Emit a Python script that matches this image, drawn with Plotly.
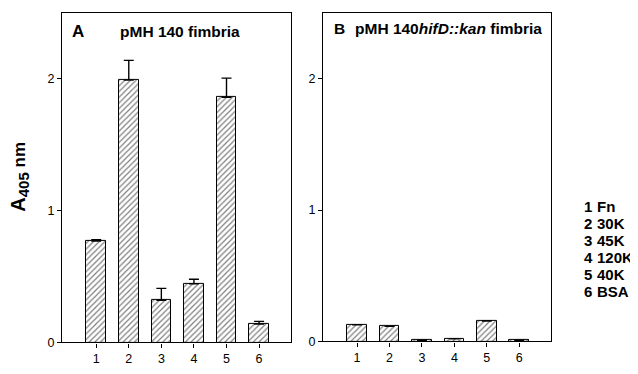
import plotly.graph_objects as go

categories = [1, 2, 3, 4, 5, 6]
values_a = [0.77, 1.99, 0.32, 0.445, 1.86, 0.14]
errors_a = [0.01, 0.15, 0.09, 0.035, 0.145, 0.02]
values_b = [0.127, 0.115, 0.01, 0.02, 0.155, 0.01]
errors_b = [0.0, 0.0, 0.0, 0.0, 0.004, 0.0]
legend_nums = ["1", "2", "3", "4", "5", "6"]
legend_labels = ["Fn", "30K", "45K", "120K", "40K", "BSA"]
title_a = "pMH 140 fimbria"
title_b = "pMH 140<i>hifD::kan</i> fimbria"
y_title = "<b><span style='font-size:20px'>A</span><sub><span style='font-size:15px'>405</span></sub> nm</b>"

# page body has an 8px default margin; figure is placed at (8, 8)
OFF = 8
W, H = 630, 366
FONT = "Liberation Sans, Arial, sans-serif"

def px_x(p):
    return (p - OFF) / W

def px_y(p):
    return 1 - (p - OFF) / H

fig = go.Figure()

pattern = dict(shape="/", fgcolor="black", bgcolor="white", size=4, solidity=0.3)

for vals, errs, xa, ya in [(values_a, errors_a, "x", "y"), (values_b, errors_b, "x2", "y2")]:
    fig.add_trace(go.Bar(
        x=categories, y=vals, width=0.6,
        marker=dict(color="white", line=dict(color="black", width=1), pattern=pattern),
        error_y=dict(type="data", array=errs, arrayminus=[0] * len(errs), symmetric=False,
                     color="black", thickness=1.4, width=5),
        xaxis=xa, yaxis=ya, showlegend=False,
    ))

axis_common = dict(showline=True, linecolor="black", linewidth=1.2, mirror=True,
                   ticks="outside", ticklen=4, tickcolor="black", tickwidth=1,
                   showgrid=False, zeroline=False,
                   tickfont=dict(family=FONT, size=12.5, color="black"))

fig.update_layout(
    width=W, height=H,
    margin=dict(l=0, r=0, t=0, b=0),
    paper_bgcolor="white", plot_bgcolor="white",
    bargap=0,
    xaxis=dict(domain=[px_x(62), px_x(291)], range=[-0.05, 6.98], tickvals=categories,
               anchor="y", **axis_common),
    yaxis=dict(domain=[px_y(349), px_y(13)], range=[0, 2.5], tickvals=[0, 1, 2],
               anchor="x", **axis_common),
    xaxis2=dict(domain=[px_x(323), px_x(551)], range=[-0.05, 6.98], tickvals=categories,
                anchor="y2", **axis_common),
    yaxis2=dict(domain=[px_y(348), px_y(13)], range=[0, 2.5], tickvals=[0, 1, 2],
                anchor="x2", **axis_common),
)

def note(x, y, text, size, **kw):
    d = dict(x=px_x(x), y=px_y(y), xref="paper", yref="paper", xanchor="left", yanchor="middle",
             text=text, showarrow=False, font=dict(family=FONT, size=size, color="black"))
    d.update(kw)
    return d

ann = []
ann.append(note(70, 32, "<b>A</b>", 17))
ann.append(note(118, 32, "<b>" + title_a + "</b>", 15.5))
ann.append(note(332, 29, "<b>B</b>", 15.5))
ann.append(note(353, 29, "<b>" + title_b + "</b>", 15.5))
ann.append(note(20, 180, y_title, 17, xanchor="center", textangle=-90))
for i, (n, lab) in enumerate(zip(legend_nums, legend_labels)):
    yy = 210 + i * 17.5
    ann.append(note(582, yy, "<b>" + n + "</b>", 15))
    ann.append(note(595, yy, "<b>" + lab + "</b>", 15))
fig.update_layout(annotations=ann)

fig.write_html("out.html")
